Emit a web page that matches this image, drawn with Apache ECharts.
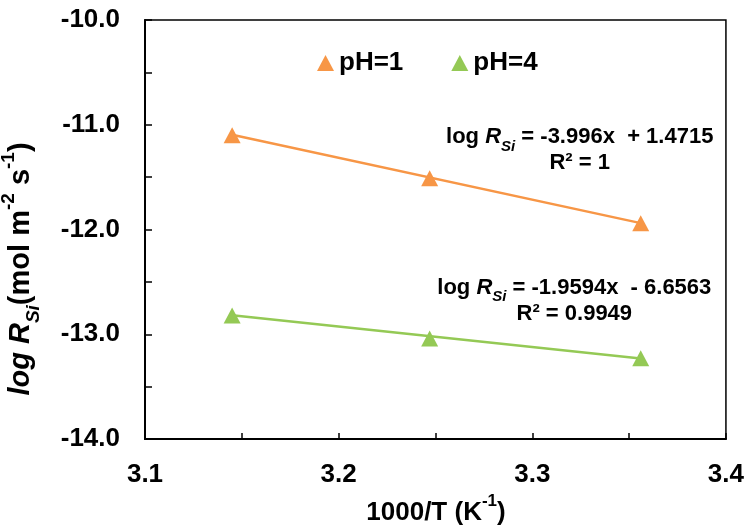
<!DOCTYPE html>
<html><head><meta charset="utf-8">
<script src="https://cdn.jsdelivr.net/npm/echarts@6/dist/echarts.min.js"></script>
<style>html,body{margin:0;padding:0;background:#fff}#c{width:747px;height:529px}</style>
</head><body><div id="c"></div>
<script>
// data
var xValues = [3.145, 3.247, 3.356];
var ph1Values = [-11.10, -11.51, -11.94];
var ph4Values = [-12.82, -13.04, -13.23];
var ph1TrendX = [3.145, 3.356];
var ph1TrendY = [-11.096, -11.939];
var ph4TrendX = [3.145, 3.356];
var ph4TrendY = [-12.819, -13.232];
var xTicks = [3.1, 3.2, 3.3, 3.4];
var yTicks = [-14, -13, -12, -11, -10];

var ORANGE = '#F79646', GREEN = '#94C955';
var FONT = '"Liberation Sans", Arial, sans-serif';

function pairs(xs, ys){ return xs.map(function(x,i){ return [x, ys[i]]; }); }
function isMajor(v, step){ var r = v/step; return Math.abs(r - Math.round(r)) < 1e-6; }

var chart = echarts.init(document.getElementById('c'), null, {renderer:'canvas'});
var option = {
  animation: false,
  grid: {left:145, right:19, top:20, bottom:90, show:true, borderColor:'#000', borderWidth:1.5, backgroundColor:'transparent'},
  legend: {
    data: ['pH=1','pH=4'], left: 312, top: 45, icon: 'triangle', itemWidth: 17, itemHeight: 16, itemGap: 48,
    textStyle: {fontFamily: FONT, fontWeight: 'bold', fontSize: 26, color: '#000'}
  },
  xAxis: {
    type: 'value', min: 3.1, max: 3.4, interval: 0.05,
    axisLine: {show:true, lineStyle:{color:'#000', width:2}},
    axisTick: {show:true, inside:true, length:6, lineStyle:{color:'#000', width:1.5}},
    splitLine: {show:false},
    axisLabel: {margin: 23, fontFamily: FONT, fontWeight:'bold', fontSize: 26, color:'#000',
      formatter: function(v){ return isMajor(v,0.1) && xTicks.some(function(t){return Math.abs(t-v)<1e-6;}) ? v.toFixed(1) : ''; }}
  },
  yAxis: {
    type: 'value', min: -14, max: -10, interval: 0.5,
    axisLine: {show:true, lineStyle:{color:'#000', width:2}},
    axisTick: {show:true, inside:true, length:7, lineStyle:{color:'#000', width:1.5}},
    splitLine: {show:false},
    axisLabel: {margin: 25, fontFamily: FONT, fontWeight:'bold', fontSize: 26, color:'#000', padding:[9,0,0,0],
      formatter: function(v){ return isMajor(v,1) && yTicks.some(function(t){return Math.abs(t-v)<1e-6;}) ? v.toFixed(1) : ''; }}
  },
  series: [
    {name:'trend1', type:'line', data: pairs(ph1TrendX, ph1TrendY), showSymbol:false, symbol:'none', lineStyle:{color:ORANGE, width:2.5}, z:2, silent:true},
    {name:'trend4', type:'line', data: pairs(ph4TrendX, ph4TrendY), showSymbol:false, symbol:'none', lineStyle:{color:GREEN, width:2.5}, z:2, silent:true},
    {name:'pH=1', type:'scatter', data: pairs(xValues, ph1Values), symbol:'triangle', symbolSize:[17,16], itemStyle:{color:ORANGE, opacity:1}, z:3},
    {name:'pH=4', type:'scatter', data: pairs(xValues, ph4Values), symbol:'triangle', symbolSize:[17,16], itemStyle:{color:GREEN, opacity:1}, z:3}
  ]
};
chart.setOption(option);

var eqStyle = {
  n: {fontFamily: FONT, fontWeight:'bold', fontSize:22, color:'#000', lineHeight:26},
  i: {fontFamily: FONT, fontWeight:'bold', fontStyle:'italic', fontSize:22, color:'#000', lineHeight:26},
  sub: {fontFamily: FONT, fontWeight:'bold', fontStyle:'italic', fontSize:15, color:'#000', lineHeight:26, verticalAlign:'bottom', padding:[0,0,-4,0]}
};
var p1 = chart.convertToPixel({gridIndex:0}, [3.3245, -11.24]);
var p2 = chart.convertToPixel({gridIndex:0}, [3.3217, -12.68]);

function titleRich(size, small){
  return {
    i: {fontFamily: FONT, fontWeight:'bold', fontStyle:'italic', fontSize:size, color:'#000', lineHeight:size+8},
    n: {fontFamily: FONT, fontWeight:'bold', fontSize:size, color:'#000', lineHeight:size+8},
    sub: {fontFamily: FONT, fontWeight:'bold', fontStyle:'italic', fontSize:small, color:'#000', lineHeight:size+8, verticalAlign:'bottom', padding:[0,0,-4,0]},
    sup: {fontFamily: FONT, fontWeight:'bold', fontSize:small, color:'#000', lineHeight:size+8, verticalAlign:'top', padding:[-3,0,0,0]}
  };
}

chart.setOption({
  graphic: [
    {type:'text', x:p1[0], y:p1[1], z:10, style:{
      text:'{n|log }{i|R}{sub|Si}{n| = -3.996x  + 1.4715}\n{n|R² = 1}', rich: eqStyle, align:'center', verticalAlign:'middle'}},
    {type:'text', x:p2[0], y:p2[1], z:10, style:{
      text:'{n|log }{i|R}{sub|Si}{n| = -1.9594x  - 6.6563}\n{n|R² = 0.9949}', rich: eqStyle, align:'center', verticalAlign:'middle'}},
    {type:'text', x:436, y:513, z:10, style:{
      text:'{n|1000/T (K}{sup|-1}{n|)}', rich: titleRich(26, 17), align:'center', verticalAlign:'middle'}},
    {type:'text', x:21, y:269, rotation: Math.PI/2, z:10, style:{
      text:'{i|log R}{sub|Si}{n|(mol m}{sup|-2}{n| s}{sup|-1}{n|)}', rich: titleRich(29, 19), align:'center', verticalAlign:'middle'}}
  ]
});
</script>
</body></html>
